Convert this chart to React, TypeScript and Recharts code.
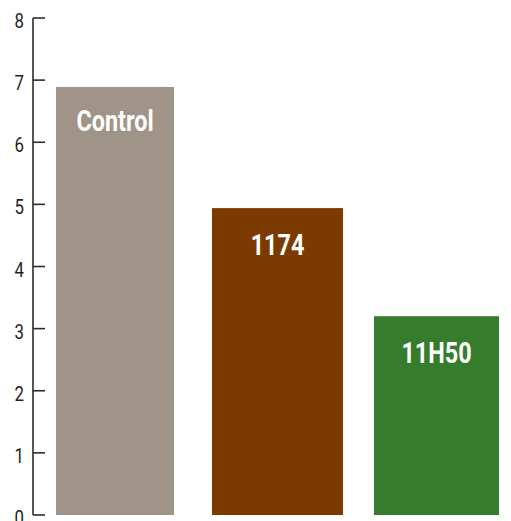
import { BarChart, Bar, XAxis, YAxis, Cell } from "recharts";

const categories = ["Control", "1174", "11H50"];
const values = [6.89, 4.94, 3.2];
const yTicks = [0, 1, 2, 3, 4, 5, 6, 7, 8];

const colors = ["#a09488", "#7a3a00", "#367c2d"];
// left/right gaps inside each category band (bars are not evenly sized in the source)
const insets: [number, number][] = [
  [23, 22],
  [16, 16],
  [15, 23],
];
// label baseline below each bar top
const labelDrop = [44, 47, 47];

const FONT = 'Roboto, "Liberation Sans", sans-serif';
const CHART_W = 530;
const CHART_H = 521;
const LEFT = 33;
const RIGHT = 8;
const BAND = (CHART_W - LEFT - RIGHT) / categories.length;

const rows = categories.map((name, i) => ({ name, value: values[i] }));

function BarShape(props: any) {
  const { x, y, width, height, index, fill, payload } = props;
  const [l, r] = insets[index] ?? [20, 20];
  const bx = x + l;
  const bw = width - l - r;
  return (
    <g>
      <rect x={bx} y={y} width={bw} height={height} fill={fill} />
      <text
        transform={`translate(${bx + bw / 2},${y + (labelDrop[index] ?? 46)}) scale(0.78,1)`}
        x={0}
        y={0}
        textAnchor="middle"
        fill="#ffffff"
        fontFamily={FONT}
        fontWeight="bold"
        fontSize={30}
      >
        {payload.name}
      </text>
    </g>
  );
}

function YTick(props: any) {
  const { x, y, payload } = props;
  return (
    <g>
      <line x1={x + 9} x2={x + 21} y1={y} y2={y} stroke="#2b2b2b" strokeWidth={1.6} />
      <text
        transform={`translate(${x},${y + 10}) scale(0.82,1)`}
        x={0}
        y={0}
        textAnchor="end"
        fill="#231f20"
        fontFamily={FONT}
        fontSize={20.5}
      >
        {payload.value}
      </text>
    </g>
  );
}

function XTick(props: any) {
  const { x, y, index } = props;
  if (index >= categories.length - 1) return null;
  const bx = x + BAND / 2;
  return <line x1={bx} x2={bx} y1={y - 12} y2={y} stroke="#2b2b2b" strokeWidth={1.6} />;
}

export default function App() {
  return (
    <div
      style={{
        position: "absolute",
        left: 0,
        top: 0,
        width: 511,
        height: 521,
        overflow: "hidden",
        background: "#ffffff",
      }}
    >
      <BarChart
        width={CHART_W}
        height={CHART_H}
        data={rows}
        margin={{ top: 18, right: RIGHT, bottom: 6, left: 0 }}
        barCategoryGap={0}
      >
        <XAxis
          dataKey="name"
          height={0}
          tickSize={0}
          tickMargin={0}
          tickLine={false}
          interval={0}
          tick={<XTick />}
          axisLine={{ stroke: "#2b2b2b", strokeWidth: 2.2 }}
        />
        <YAxis
          width={LEFT}
          domain={[0, 8]}
          ticks={yTicks}
          interval={0}
          tickSize={0}
          tickMargin={9}
          tickLine={false}
          tick={<YTick />}
          axisLine={{ stroke: "#2b2b2b", strokeWidth: 1.6 }}
        />
        <Bar dataKey="value" shape={<BarShape />} isAnimationActive={false}>
          {rows.map((r, i) => (
            <Cell key={r.name} fill={colors[i]} />
          ))}
        </Bar>
      </BarChart>
    </div>
  );
}
